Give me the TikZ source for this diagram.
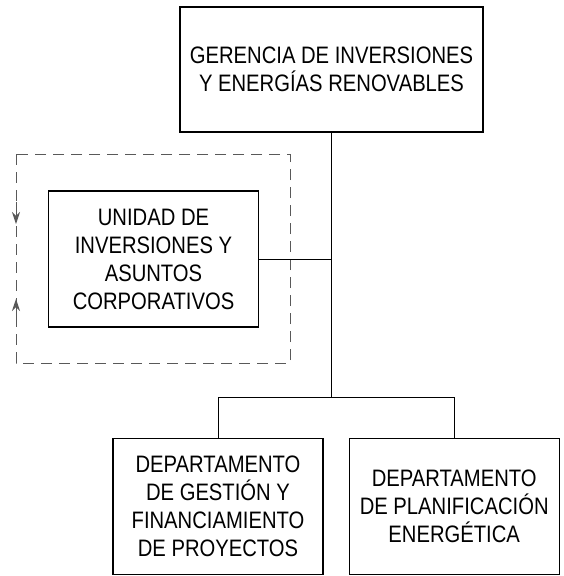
\documentclass[tikz,border=0pt]{standalone}
\usepackage{fontspec}
\setmainfont{Liberation Sans}[FakeStretch=0.85]
\usetikzlibrary{positioning, arrows.meta, calc}

\begin{document}
\begin{tikzpicture}[x=1pt, y=1pt,
    every node/.style={font=\fontsize{23.8}{28}\selectfont},
    unit/.style={rectangle, draw, line width=1.2pt, align=center, minimum width=210pt, minimum height=136pt, inner sep=0pt},
    head/.style={unit, minimum width=303pt, minimum height=125pt},
    link/.style={line width=1pt},
    frame/.style={draw=black!65, line width=1pt, dash pattern=on 11pt off 7pt},
    flow/.style={-{Stealth[length=12pt, width=8pt]}, black!65, line width=1pt}]

  \useasboundingbox (0,0) rectangle (564,-576);

  \node[head] (ger) at (331.5,-69.5) {GERENCIA DE INVERSIONES\\Y ENERGÍAS RENOVABLES};
  \node[unit] (uni) at (153.5,-259) {UNIDAD DE\\INVERSIONES Y\\ASUNTOS\\CORPORATIVOS};
  \node[unit, below=305pt of ger, xshift=-113.5pt] (dgf) {DEPARTAMENTO\\DE GESTIÓN Y\\FINANCIAMIENTO\\DE PROYECTOS};
  \node[unit, right=25pt of dgf] (dpe) {DEPARTAMENTO\\DE PLANIFICACIÓN\\ENERGÉTICA};

  % marco punteado de la unidad
  \coordinate (fnw) at (16,-154);
  \coordinate (fse) at (290,-363);
  \draw[frame] (fnw) rectangle (fse);
  \draw[flow] ($(fnw)+(0,-48)$) -- ($(fnw)+(0,-70)$);
  \draw[flow] ($(fnw)+(0,-168)$) -- ($(fnw)+(0,-145)$);

  \coordinate (bus) at ($(ger.south)+(0,-265)$);
  \draw[link] (ger.south) -- (bus);
  \draw[link] (uni.east) -- (uni.east -| ger.south);
  \draw[link] (dgf.north) |- (bus) -| (dpe.north);
\end{tikzpicture}
\end{document}
